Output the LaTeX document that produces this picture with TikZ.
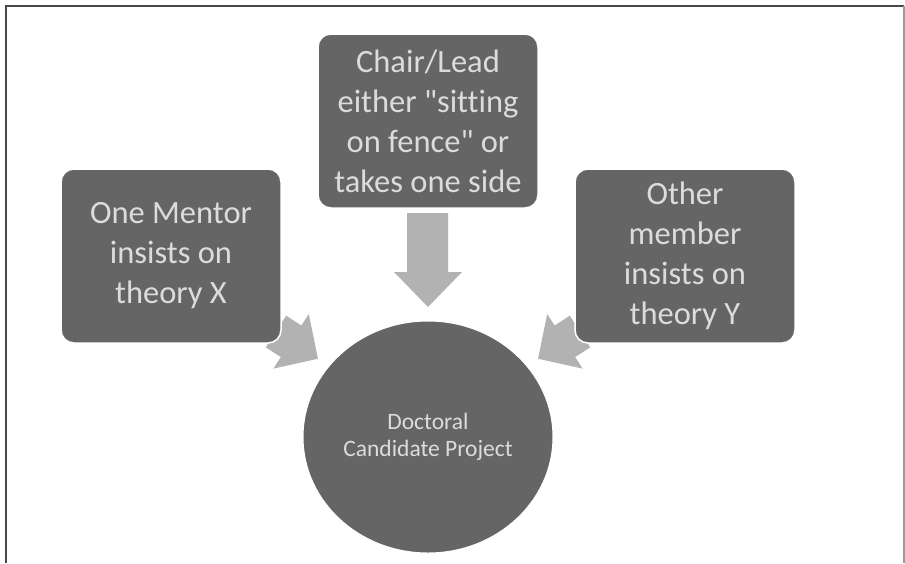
\documentclass[tikz,border=0pt]{standalone}
\usepackage{fontspec}
\setmainfont[Ligatures={TeXOff,NoCommon}]{Carlito}
\usetikzlibrary{shapes.geometric}
\definecolor{boxgray}{HTML}{656565}
\definecolor{txtgray}{HTML}{DCDCDC}
\definecolor{arrgray}{HTML}{B2B2B2}
\definecolor{framedark}{HTML}{484848}
\definecolor{framelight}{HTML}{9A9A9A}
\begin{document}
\begin{tikzpicture}[x=1pt,y=-1pt,
  box/.style={draw=white, line width=1.5pt, fill=boxgray, rounded corners=13pt,
    minimum width=220pt, minimum height=174pt, inner sep=0pt, text=txtgray,
    align=center, font=\fontsize{32.5}{40}\selectfont},
  hub/.style={ellipse, draw=white, line width=1pt, fill=boxgray, minimum width=250pt,
    minimum height=232pt, inner sep=0pt, text=txtgray, align=center,
    font=\fontsize{23.5}{26.5}\selectfont},
  arr/.style={fill=arrgray, draw=none},
  framel/.style={draw=framedark, line width=2pt},
  framer/.style={draw=framelight, line width=1.2pt}]
\useasboundingbox (0,0) rectangle (905,563);
% frame
\draw[framel] (6,563) -- (6,6) -- (904,6);
\draw[framer] (904,6) -- (904,563);
% arrows (drawn beneath the boxes)
\fill[arr] (407,213) -- (448,213) -- (448,272) -- (462,272) -- (428,307) -- (394,272) -- (407,272) -- cycle;
\fill[arr] (286.25,315.7) -- (301.35,325.5) -- (308.8,314.0) -- (317.95,358.75)
  -- (273.4,368.6) -- (280.85,357.1) -- (265.75,347.3) -- cycle;
\fill[arr] (569.75,315.7) -- (554.65,325.5) -- (547.2,314.0) -- (538.05,358.75)
  -- (582.6,368.6) -- (575.15,357.1) -- (590.25,347.3) -- cycle;
% nodes
\node[box] (chair) at (428,121) {Chair/Lead\\either "sitting\\on fence" or\\takes one side};
\node[box] (mentor) at (171,256) {One Mentor\\insists on\\theory X};
\node[box] (member) at (685,256) {Other\\member\\insists on\\theory Y};
\node[hub] (project) at (428,437) {Doctoral\\Candidate Project};
\end{tikzpicture}
\end{document}
